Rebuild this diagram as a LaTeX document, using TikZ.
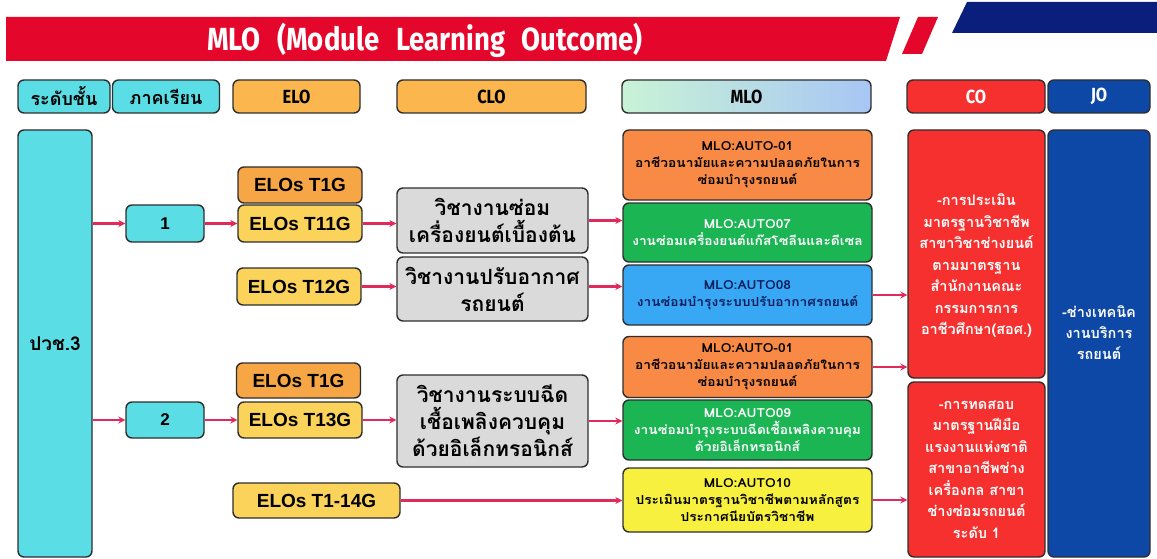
\documentclass[tikz,border=0pt]{standalone}
\usepackage{fontspec}
\setmainfont{Liberation Sans}
\newfontfamily\thai[Script=Thai]{Loma}
\newfontfamily\thaiw[Script=Thai]{Loma}[FakeStretch=1.1]
\newfontfamily\titlef{Fira Sans}[FakeStretch=0.86]
\usetikzlibrary{arrows.meta,shapes.geometric}
\definecolor{bannerred}{HTML}{E5062C}
\definecolor{navytop}{HTML}{0A1F7C}
\definecolor{cyanc}{HTML}{5ADDE4}
\definecolor{orangeh}{HTML}{FBB64E}
\definecolor{orangee}{HTML}{F6A645}
\definecolor{yellowe}{HTML}{FBD25A}
\definecolor{grayc}{HTML}{DADADA}
\definecolor{mloorange}{HTML}{F98A45}
\definecolor{mlogreen}{HTML}{1CB554}
\definecolor{mloblue}{HTML}{38A8F4}
\definecolor{mloyellow}{HTML}{F8F03E}
\definecolor{cored}{HTML}{F5302F}
\definecolor{jobl}{HTML}{0E48A6}
\definecolor{bordc}{HTML}{2E2E2E}
\definecolor{arrc}{HTML}{E02A5A}
\definecolor{navytxt}{HTML}{0B1D5C}
\definecolor{mlol}{HTML}{C9F3D6}
\definecolor{mlor}{HTML}{A8C6F4}
\newcommand\myfs[2]{\fontsize{#1}{#2}\selectfont}
\begin{document}
\begin{tikzpicture}[x=1pt,y=-1pt,
  box/.style={draw=bordc, line width=1.4pt, rounded corners=6pt, inner sep=0pt, align=center},
  hdr/.style={box, minimum height=33pt},
  cyanbox/.style={box, fill=cyanc},
  elo/.style={box, fill=yellowe, minimum width=124pt, font=\myfs{19}{21}\bfseries},
  eloo/.style={elo, fill=orangee},
  clo/.style={box, fill=grayc, minimum width=191pt, font=\thai\bfseries\myfs{21}{27}},
  mlo/.style={box, minimum width=249pt, font=\thaiw\bfseries\myfs{12.5}{17}},
  cob/.style={box, fill=cored, minimum width=137pt},
  arr/.style={draw=arrc, line width=2.2pt, -{Stealth[length=7pt,width=7pt]}}]
\useasboundingbox (0,0) rectangle (1157,559);
% banner
\fill[bannerred] (6,17) -- (900,17) -- (886,61) -- (6,61) -- cycle;
\fill[bannerred] (918,17) -- (938,17) -- (922,54) -- (902,54) -- cycle;
\fill[navytop] (967,2) -- (1157,2) -- (1157,33) -- (952,33) -- cycle;
\node[text=white, font=\titlef\bfseries\myfs{32}{34}] (title) at (425,40) {MLO\hspace{10pt} (Module\hspace{10pt} Learning\hspace{10pt} Outcome)};
% headers
\node[hdr, cyanbox, minimum width=92pt, font=\thai\bfseries\myfs{18}{20}] (h1) at (64,96.5) {ระดับชั้น};
\node[hdr, cyanbox, minimum width=107pt, font=\thai\bfseries\myfs{18}{20}] (h2) at (166,96.5) {ภาคเรียน};
\node[hdr, fill=orangeh, minimum width=127pt, font=\titlef\bfseries\myfs{19}{20}] (h3) at (296.5,96.5) {ELO};
\node[hdr, fill=orangeh, minimum width=189pt, font=\titlef\bfseries\myfs{19}{20}] (h4) at (491.5,96.5) {CLO};
\node[hdr, left color=mlol, right color=mlor, minimum width=249pt, font=\titlef\bfseries\myfs{19}{20}] (h5) at (746.5,96.5) {MLO};
\node[hdr, fill=cored, text=white, minimum width=138pt, font=\titlef\bfseries\myfs{19}{20}] (h6) at (976,96.5) {CO};
\node[hdr, fill=jobl, text=white, minimum width=102pt, font=\titlef\bfseries\myfs{19}{20}] (h7) at (1099,96.5) {JO};
% level
\node[cyanbox, minimum width=74pt, minimum height=427pt, font=\thai\bfseries\myfs{19}{21}] (p) at (55,343.5) {ปวช.3};
\node[cyanbox, minimum width=78pt, minimum height=37pt, font=\bfseries\myfs{17}{19}] (n1) at (165,223.5) {1};
\node[cyanbox, minimum width=78pt, minimum height=36pt, font=\bfseries\myfs{17}{19}] (n2) at (165,420) {2};
% ELO
\node[eloo, minimum height=36pt] (e1) at (300,185) {ELOs T1G};
\node[elo, minimum height=37pt] (e2) at (300,223.5) {ELOs T11G};
\node[elo, minimum height=37pt] (e3) at (299,286.5) {ELOs T12G};
\node[eloo, minimum height=35pt] (e4) at (298.5,380.5) {ELOs T1G};
\node[elo, minimum height=36pt] (e5) at (300,420) {ELOs T13G};
\node[elo, minimum width=167pt, minimum height=35pt] (e6) at (316.5,500.5) {ELOs T1-14G};
% CLO
\node[clo, minimum height=65pt] (c1) at (492.5,220.5) {วิชางานซ่อม\\เครื่องยนต์เบื้องต้น};
\node[clo, minimum height=64pt] (c2) at (492.5,289) {วิชางานปรับอากาศ\\รถยนต์};
\node[clo, minimum height=92pt] (c3) at (492.5,421) {วิชางานระบบฉีด\\เชื้อเพลิงควบคุม\\ด้วยอิเล็กทรอนิกส์};
% MLO
\node[mlo, fill=mloorange, minimum height=70pt] (m1) at (747.5,165) {MLO:AUTO-01\\อาชีวอนามัยและความปลอดภัยในการ\\ซ่อมบำรุงรถยนต์};
\node[mlo, fill=mlogreen, text=white, minimum height=59pt] (m2) at (747.5,232.5) {MLO:AUTO07\\งานซ่อมเครื่องยนต์แก๊สโซลีนและดีเซล};
\node[mlo, fill=mloblue, text=navytxt, minimum height=60pt] (m3) at (747.5,295) {MLO:AUTO08\\งานซ่อมบำรุงระบบปรับอากาศรถยนต์};
\node[mlo, fill=mloorange, minimum height=61pt] (m4) at (747.5,367) {MLO:AUTO-01\\อาชีวอนามัยและความปลอดภัยในการ\\ซ่อมบำรุงรถยนต์};
\node[mlo, fill=mlogreen, text=white, minimum height=60pt] (m5) at (747.5,430) {MLO:AUTO09\\งานซ่อมบำรุงระบบฉีดเชื้อเพลิงควบคุม\\ด้วยอิเล็กทรอนิกส์};
\node[mlo, fill=mloyellow, minimum height=64pt] (m6) at (747.5,500) {MLO:AUTO10\\ประเมินมาตรฐานวิชาชีพตามหลักสูตร\\ประกาศนียบัตรวิชาชีพ};
% CO / JO
\node[cob, minimum height=248pt] (co1) at (976.5,254) {};
\node[text=white, align=center, font=\thai\bfseries\myfs{14.5}{21.5}] (co1t) at (976.5,266) {-การประเมิน\\มาตรฐานวิชาชีพ\\สาขาวิชาช่างยนต์\\ตามมาตรฐาน\\สำนักงานคณะ\\กรรมการการ\\อาชีวศึกษา(สอศ.)};
\node[cob, minimum height=175pt, text=white, font=\thai\bfseries\myfs{14.5}{21.5}] (co2) at (976.5,469.5) {-การทดสอบ\\มาตรฐานฝีมือ\\แรงงานแห่งชาติ\\สาขาอาชีพช่าง\\เครื่องกล สาขา\\ช่างซ่อมรถยนต์\\ระดับ 1};
\node[box, fill=jobl, minimum width=102pt, minimum height=427pt] (jo) at (1099,343.5) {};
\node[text=white, align=center, font=\thai\bfseries\myfs{14.5}{21}] (jot) at (1099,333) {-ช่างเทคนิค\\งานบริการ\\รถยนต์};
% arrows
\draw[arr] (p.east |- n1.west) -- (n1.west);
\draw[arr] (p.east |- n2.west) -- (n2.west);
\draw[arr] (n1.east) -- (e2.west);
\draw[arr] (n2.east) -- (e5.west);
\draw[arr] (e2.east) -- (c1.west |- e2.east);
\draw[arr] (e3.east) -- (c2.west |- e3.east);
\draw[arr] (e5.east) -- (c3.west |- e5.east);
\draw[arr] (c1.east) -- (m2.west |- c1.east);
\draw[arr] (c2.east |- e3.east) -- (m3.west |- e3.east);
\draw[arr] (c3.east) -- (m5.west |- c3.east);
\draw[arr] (e6.east) -- (m6.west |- e6.east);
\draw[arr] (m3.east) -- (co1.west |- m3.east);
\draw[arr] (m4.east) -- (co1.west |- m4.east);
\draw[arr] (m6.east) -- (co2.west |- m6.east);
\end{tikzpicture}
\end{document}
